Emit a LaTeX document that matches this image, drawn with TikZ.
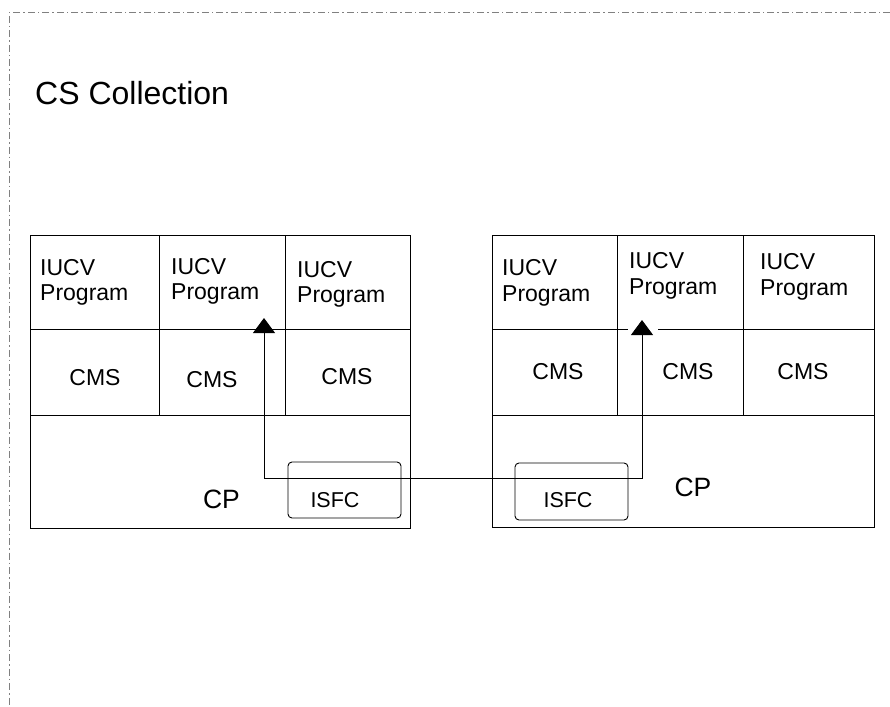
\documentclass[tikz,border=0pt]{standalone}
\usepackage{fontspec}
\setmainfont{Liberation Sans}
\usetikzlibrary{arrows.meta}
\begin{document}
\begin{tikzpicture}[x=1pt,y=-1pt,
  frame/.style={draw=black,line width=0.9pt},
  txt/.style={inner sep=0pt,font=\fontsize{23}{25.5}\selectfont},
  cmstxt/.style={inner sep=0pt,font=\fontsize{23}{25}\selectfont},
  smalltxt/.style={inner sep=0pt,font=\fontsize{21.5}{22}\selectfont},
  bigtxt/.style={inner sep=0pt,font=\fontsize{26.5}{28}\selectfont},
  prog/.style={txt,align=left,anchor=north west},
  isfcbox/.style={draw=black,line width=0.9pt,rounded corners=4pt},
  border/.style={draw=black!50,line width=0.8pt,dash pattern=on 7pt off 3pt on 1.5pt off 3pt},
  link/.style={draw=black,line width=0.9pt,{Triangle[length=15pt,width=22pt]}-{Triangle[length=15pt,width=22pt]}}
]
\useasboundingbox (0,0) rectangle (890,706);

% outer dash-dot frame (top and left sides only)
\draw[border] (890,12.5) -- (9,12.5) -- (9,706);
\node[inner sep=0pt,anchor=base west,font=\fontsize{32}{34}\selectfont] (title) at (35,104) {CS Collection};

% ---- left system ----
\draw[frame] (30,235) rectangle (410,528);
\draw[frame] (30,329) -- (410,329);
\draw[frame] (30,415.5) -- (410,415.5);
\draw[frame] (159,235) -- (159,415.5);
\draw[frame] (285,235) -- (285,415.5);
\node[prog] (lp1) at (40,259) {IUCV\\Program};
\node[prog] (lp2) at (171,258) {IUCV\\Program};
\node[prog] (lp3) at (297,261) {IUCV\\Program};
\node[cmstxt] (lc1) at (95,378) {CMS};
\node[cmstxt] (lc2) at (212,380) {CMS};
\node[cmstxt] (lc3) at (347,377) {CMS};
\node[bigtxt] (lcp) at (221.5,499) {CP};
\draw[isfcbox] (288,462) rectangle (401,518);
\node[smalltxt] (lisfc) at (335,500) {ISFC};

% ---- right system ----
\draw[frame] (492,235) rectangle (874,527);
\draw[frame] (492,329) -- (628,329);
\draw[frame] (658,329) -- (874,329);
\draw[frame] (492,415.5) -- (874,415.5);
\draw[frame] (617,235) -- (617,415.5);
\draw[frame] (743,235) -- (743,415.5);
\node[prog] (rp1) at (502,259.5) {IUCV\\Program};
\node[prog] (rp2) at (629,252.5) {IUCV\\Program};
\node[prog] (rp3) at (760,253.5) {IUCV\\Program};
\node[cmstxt] (rc1) at (558,372) {CMS};
\node[cmstxt] (rc2) at (688,372) {CMS};
\node[cmstxt] (rc3) at (803,372) {CMS};
\node[bigtxt] (rcp) at (693,487.5) {CP};
\draw[isfcbox] (515,463) rectangle (628,520);
\node[smalltxt] (risfc) at (568,500) {ISFC};

% ---- ISFC path between the two programs ----
\coordinate (tipL) at (264,318);
\coordinate (busL) at (264,478);
\coordinate (busR) at (642,478);
\coordinate (tipR) at (642,320);
\draw[link] (tipL) -- (busL) -- (busR) -- (tipR);
\end{tikzpicture}
\end{document}
